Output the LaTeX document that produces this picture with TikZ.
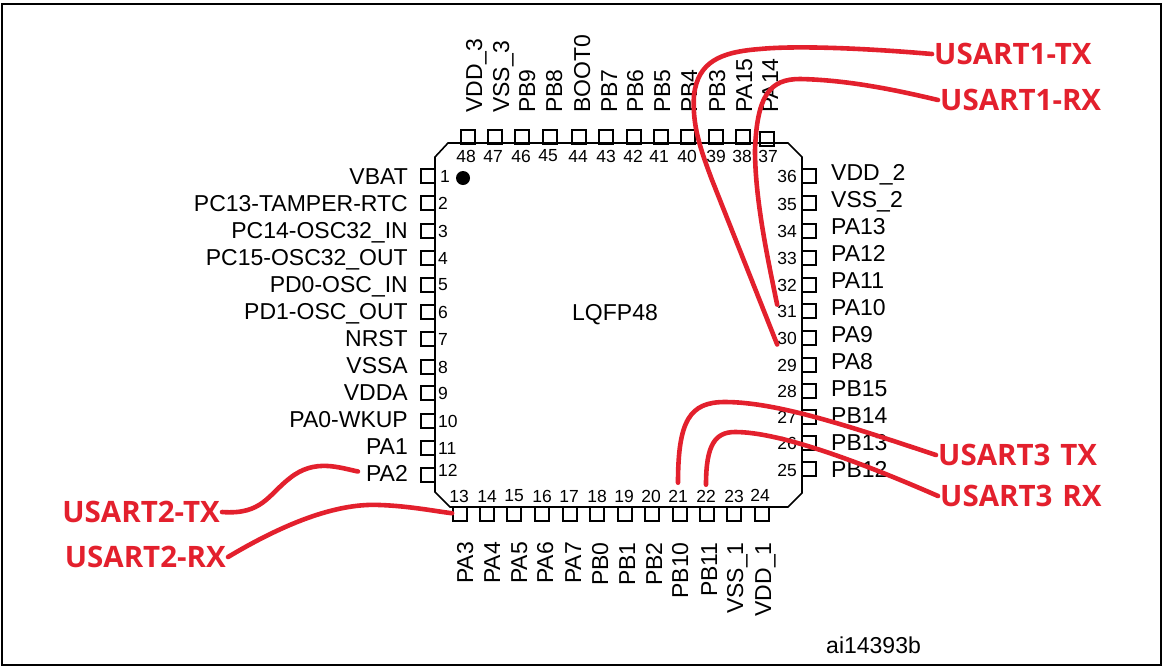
\documentclass[tikz,border=0pt]{standalone}
\usepackage{fontspec}
\setmainfont{Liberation Sans}
\newfontfamily\redfont{Open Sans}

\definecolor{wire}{HTML}{E3202D}

\tikzstyle{pinbox} = [rectangle, draw=black, line width=1.8pt, minimum width=14pt, minimum height=14pt, inner sep=0pt]
\tikzstyle{pinnum} = [inner sep=0pt, font=\fontsize{17.5}{20}\selectfont]
\tikzstyle{pinname} = [inner sep=0pt, font=\fontsize{23}{26}\selectfont]
\tikzstyle{namel} = [pinname, anchor=base east]
\tikzstyle{namer} = [pinname, anchor=base west]
\tikzstyle{namet} = [pinname, anchor=base west, rotate=90]
\tikzstyle{nameb} = [pinname, anchor=base east, rotate=90]
\tikzstyle{usart} = [inner sep=2pt, text=wire, font=\redfont\fontsize{29.5}{32}\bfseries\selectfont]
\tikzstyle{wireline} = [draw=wire, line width=4.6pt, line cap=round]

\begin{document}
\begin{tikzpicture}[x=1pt,y=-1pt]
\useasboundingbox (0,0) rectangle (1166,670);

\node[draw=black, line width=2.4pt, minimum width=1159pt, minimum height=661pt, inner sep=0pt] (Frame) at (581.5,334.5) {};

\coordinate (B1) at (448,143);
\coordinate (B2) at (788,143);
\coordinate (B3) at (802,157);
\coordinate (B4) at (802,493);
\coordinate (B5) at (788,507);
\coordinate (B6) at (450,507);
\coordinate (B7) at (435,492);
\coordinate (B8) at (435,157);
\draw[line width=1.6pt] (B1) -- (B2) -- (B3) -- (B4) -- (B5) -- (B6) -- (B7) -- (B8) -- cycle;

\node[circle, fill=black, minimum size=14pt, inner sep=0pt] (Dot) at (463,178) {};
\node[pinname] (Package) at (615,315) {LQFP48};
\node[pinname, anchor=west] (Code) at (826,645) {ai14393b};

% left side
\node[pinbox] (P1) at (428,176) {}; \node[pinnum, anchor=west] (N1) at (440,176) {1}; \node[namel] (L1) at (408,184) {VBAT};
\node[pinbox] (P2) at (428,203) {}; \node[pinnum, anchor=west] (N2) at (438,203) {2}; \node[namel] (L2) at (408,211) {PC13-TAMPER-RTC};
\node[pinbox] (P3) at (428,231) {}; \node[pinnum, anchor=west] (N3) at (438,231) {3}; \node[namel] (L3) at (408,238) {PC14-OSC32\_IN};
\node[pinbox] (P4) at (428,258) {}; \node[pinnum, anchor=west] (N4) at (438,258) {4}; \node[namel] (L4) at (408,265) {PC15-OSC32\_OUT};
\node[pinbox] (P5) at (428,285) {}; \node[pinnum, anchor=west] (N5) at (438,285) {5}; \node[namel] (L5) at (408,292) {PD0-OSC\_IN};
\node[pinbox] (P6) at (428,312) {}; \node[pinnum, anchor=west] (N6) at (438,312) {6}; \node[namel] (L6) at (408,319) {PD1-OSC\_OUT};
\node[pinbox] (P7) at (428,339) {}; \node[pinnum, anchor=west] (N7) at (438,339) {7}; \node[namel] (L7) at (408,346) {NRST};
\node[pinbox] (P8) at (428,367) {}; \node[pinnum, anchor=west] (N8) at (438,367) {8}; \node[namel] (L8) at (408,373) {VSSA};
\node[pinbox] (P9) at (428,393) {}; \node[pinnum, anchor=west] (N9) at (438,393) {9}; \node[namel] (L9) at (408,400) {VDDA};
\node[pinbox] (P10) at (428,421) {}; \node[pinnum, anchor=west] (N10) at (438,421) {10}; \node[namel] (L10) at (408,427) {PA0-WKUP};
\node[pinbox] (P11) at (428,448) {}; \node[pinnum, anchor=west] (N11) at (438,448) {11}; \node[namel] (L11) at (408,454) {PA1};
\node[pinbox] (P12) at (428,475) {}; \node[pinnum, anchor=west] (N12) at (438,470) {12}; \node[namel] (L12) at (408,481) {PA2};

% bottom side
\node[pinbox] (P13) at (460,514) {}; \node[pinnum] (N13) at (459,496) {13}; \node[nameb] (L13) at (473,542) {PA3};
\node[pinbox] (P14) at (487,514) {}; \node[pinnum] (N14) at (487,496) {14}; \node[nameb] (L14) at (500,542) {PA4};
\node[pinbox] (P15) at (514,514) {}; \node[pinnum] (N15) at (514,496) {15}; \node[nameb] (L15) at (527,542) {PA5};
\node[pinbox] (P16) at (542,514) {}; \node[pinnum] (N16) at (542,496) {16}; \node[nameb] (L16) at (553,542) {PA6};
\node[pinbox] (P17) at (570,514) {}; \node[pinnum] (N17) at (569,496) {17}; \node[nameb] (L17) at (581,542) {PA7};
\node[pinbox] (P18) at (597,514) {}; \node[pinnum] (N18) at (597,496) {18}; \node[nameb] (L18) at (608,542) {PB0};
\node[pinbox] (P19) at (625,514) {}; \node[pinnum] (N19) at (624,496) {19}; \node[nameb] (L19) at (635,542) {PB1};
\node[pinbox] (P20) at (652,514) {}; \node[pinnum] (N20) at (651,496) {20}; \node[nameb] (L20) at (662,542) {PB2};
\node[pinbox] (P21) at (680,514) {}; \node[pinnum] (N21) at (678,496) {21}; \node[nameb] (L21) at (688,542) {PB10};
\node[pinbox] (P22) at (707,514) {}; \node[pinnum] (N22) at (706,496) {22}; \node[nameb] (L22) at (717,542) {PB11};
\node[pinbox] (P23) at (734,514) {}; \node[pinnum] (N23) at (734,496) {23}; \node[nameb] (L23) at (743,542) {VSS\_1};
\node[pinbox] (P24) at (762,514) {}; \node[pinnum] (N24) at (760,495) {24}; \node[nameb] (L24) at (771,542) {VDD\_1};

% right side
\node[pinbox] (P25) at (809,469) {}; \node[pinnum, anchor=east] (N25) at (797,470) {25}; \node[namer] (L25) at (831,477) {PB12};
\node[pinbox] (P26) at (809,443) {}; \node[pinnum, anchor=east] (N26) at (797,443) {26}; \node[namer] (L26) at (831,450) {PB13};
\node[pinbox] (P27) at (809,417) {}; \node[pinnum, anchor=east] (N27) at (797,417) {27}; \node[namer] (L27) at (831,423) {PB14};
\node[pinbox] (P28) at (809,391) {}; \node[pinnum, anchor=east] (N28) at (797,391) {28}; \node[namer] (L28) at (831,396) {PB15};
\node[pinbox] (P29) at (809,365) {}; \node[pinnum, anchor=east] (N29) at (797,365) {29}; \node[namer] (L29) at (831,369) {PA8};
\node[pinbox] (P30) at (809,338) {}; \node[pinnum, anchor=east] (N30) at (797,338) {30}; \node[namer] (L30) at (831,342) {PA9};
\node[pinbox] (P31) at (809,311) {}; \node[pinnum, anchor=east] (N31) at (797,311) {31}; \node[namer] (L31) at (831,315) {PA10};
\node[pinbox] (P32) at (809,285) {}; \node[pinnum, anchor=east] (N32) at (797,285) {32}; \node[namer] (L32) at (831,288) {PA11};
\node[pinbox] (P33) at (809,258) {}; \node[pinnum, anchor=east] (N33) at (797,258) {33}; \node[namer] (L33) at (831,261) {PA12};
\node[pinbox] (P34) at (809,231) {}; \node[pinnum, anchor=east] (N34) at (797,231) {34}; \node[namer] (L34) at (831,234) {PA13};
\node[pinbox] (P35) at (809,203) {}; \node[pinnum, anchor=east] (N35) at (797,204) {35}; \node[namer] (L35) at (831,207) {VSS\_2};
\node[pinbox] (P36) at (809,176) {}; \node[pinnum, anchor=east] (N36) at (797,176) {36}; \node[namer] (L36) at (831,180) {VDD\_2};

% top side
\node[pinbox] (P37) at (767,139) {}; \node[pinnum] (N37) at (768,156) {37}; \node[namet] (L37) at (778,113) {PA14};
\node[pinbox] (P38) at (743,137) {}; \node[pinnum] (N38) at (742,156) {38}; \node[namet] (L38) at (752,113) {PA15};
\node[pinbox] (P39) at (716,137) {}; \node[pinnum] (N39) at (716,156) {39}; \node[namet] (L39) at (725,113) {PB3};
\node[pinbox] (P40) at (688,137) {}; \node[pinnum] (N40) at (687,156) {40}; \node[namet] (L40) at (697,113) {PB4};
\node[pinbox] (P41) at (661,137) {}; \node[pinnum] (N41) at (659,156) {41}; \node[namet] (L41) at (670,113) {PB5};
\node[pinbox] (P42) at (634,137) {}; \node[pinnum] (N42) at (633,156) {42}; \node[namet] (L42) at (643,113) {PB6};
\node[pinbox] (P43) at (606,137) {}; \node[pinnum] (N43) at (606,156) {43}; \node[namet] (L43) at (617,113) {PB7};
\node[pinbox] (P44) at (579,137) {}; \node[pinnum] (N44) at (578,156) {44}; \node[namet] (L44) at (590,113) {BOOT0};
\node[pinbox] (P45) at (550,137) {}; \node[pinnum] (N45) at (548,156) {45}; \node[namet] (L45) at (562,113) {PB8};
\node[pinbox] (P46) at (522,137) {}; \node[pinnum] (N46) at (521,156) {46}; \node[namet] (L46) at (535,113) {PB9};
\node[pinbox] (P47) at (495,137) {}; \node[pinnum] (N47) at (493,156) {47}; \node[namet] (L47) at (509,113) {VSS\_3};
\node[pinbox] (P48) at (468,137) {}; \node[pinnum] (N48) at (466,156) {48}; \node[namet] (L48) at (482,113) {VDD\_3};

% red labels
\node[usart, anchor=west] (TXone) at (932,54) {USART1-TX};
\node[usart, anchor=west] (RXone) at (938,100) {USART1-RX};
\node[usart, anchor=west] (TXthree) at (936,455) {USART3\,\,TX};
\node[usart, anchor=west] (RXthree) at (938,496) {USART3\,\,RX};
\node[usart, anchor=east] (TXtwo) at (222,512) {USART2-TX};
\node[usart, anchor=east] (RXtwo) at (228,557) {USART2-RX};

\draw[wireline] (TXone.west) .. controls (850,47) and (790,46) .. (760,49) .. controls (720,52) and (698,62) .. (694,95) .. controls (692,125) and (700,148) .. (712,180) -- (N30.south west);
\draw[wireline] (RXone.west) .. controls (900,91) and (850,80) .. (800,79) .. controls (770,79) and (757,95) .. (755,150) .. controls (755,200) and (768,260) .. (N31.north west);
\draw[wireline, shorten >=7pt] (TXthree.west) .. controls (860,430) and (780,402) .. (725,402) .. controls (690,402) and (678,420) .. (N21.north);
\draw[wireline, shorten >=5pt] (RXthree.west) .. controls (860,462) and (780,432) .. (735,432) .. controls (715,432) and (706,445) .. (N22.north);
\draw[wireline, shorten >=8pt] (TXtwo.east) .. controls (262,515) and (268,495) .. (290,478) .. controls (315,458) and (340,468) .. (L12.west);
\draw[wireline] (RXtwo.east) .. controls (290,520) and (340,503) .. (380,505) .. controls (410,506) and (440,512) .. (P13);

\end{tikzpicture}
\end{document}
